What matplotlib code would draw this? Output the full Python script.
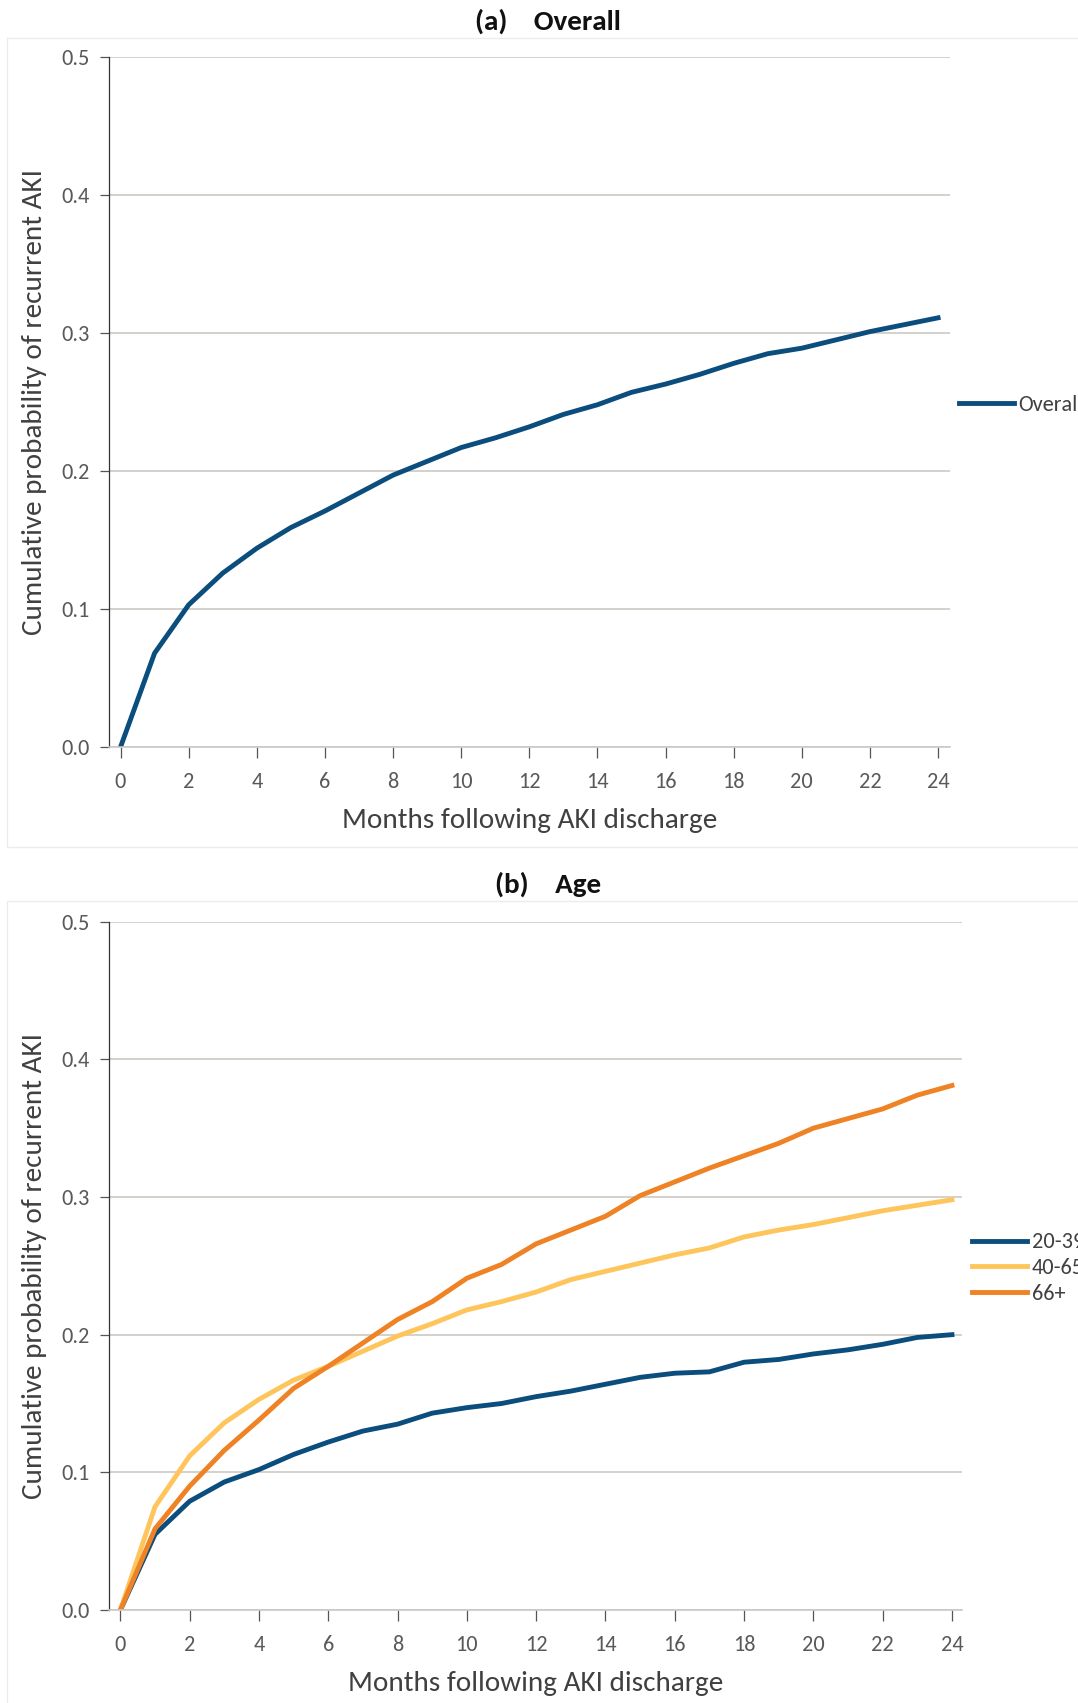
import numpy as np
import matplotlib
matplotlib.use('Agg')
import matplotlib.pyplot as plt
from matplotlib import font_manager
from matplotlib.patches import Rectangle

# months after discharge
months = np.arange(0, 25)

# (a) overall cumulative probability
overall = [0.0, 0.068, 0.103, 0.126, 0.144, 0.159, 0.171, 0.184, 0.197, 0.207,
           0.217, 0.224, 0.232, 0.241, 0.248, 0.257, 0.263, 0.270, 0.278, 0.285,
           0.289, 0.295, 0.301, 0.306, 0.311]

# (b) by age group
age_20_39 = [0.0, 0.055, 0.079, 0.093, 0.102, 0.113, 0.122, 0.130, 0.135, 0.143,
             0.147, 0.150, 0.155, 0.159, 0.164, 0.169, 0.172, 0.173, 0.180, 0.182,
             0.186, 0.189, 0.193, 0.198, 0.200]
age_40_65 = [0.0, 0.075, 0.112, 0.136, 0.153, 0.167, 0.177, 0.188, 0.199, 0.208,
             0.218, 0.224, 0.231, 0.240, 0.246, 0.252, 0.258, 0.263, 0.271, 0.276,
             0.280, 0.285, 0.290, 0.294, 0.298]
age_66 = [0.0, 0.059, 0.090, 0.116, 0.138, 0.161, 0.177, 0.194, 0.211, 0.224,
          0.241, 0.251, 0.266, 0.276, 0.286, 0.301, 0.311, 0.321, 0.330, 0.339,
          0.350, 0.357, 0.364, 0.374, 0.381]

BLUE = '#0b4d7c'
YELLOW = '#fec55c'
ORANGE = '#ee8224'
GRID = '#cdc8c4'
TXT = '#404040'

# Calibri-like font if we have one
installed = {f.name for f in font_manager.fontManager.ttflist}
fam = next((f for f in ['Carlito', 'Liberation Sans Narrow', 'Roboto Condensed',
                        'Open Sans'] if f in installed), 'DejaVu Sans')
plt.rcParams['font.family'] = [fam, 'DejaVu Sans']

W, H = 1078, 1703
fig = plt.figure(figsize=(W / 100, H / 100), dpi=100)

# faint panel frames
for (x0, y0, x1, y1) in [(7, 38, 1085, 847), (7, 901, 1085, 1710)]:
    fig.add_artist(Rectangle((x0 / W, 1 - y1 / H), (x1 - x0) / W, (y1 - y0) / H,
                             transform=fig.transFigure, fill=False,
                             edgecolor='#ececec', linewidth=1.0))


def style_axes(ax, xlim):
    ax.set_xlim(*xlim)
    ax.set_ylim(0, 0.5)
    ax.set_xticks(np.arange(0, 25, 2))
    ax.set_yticks(np.arange(0, 0.51, 0.1))
    ax.set_yticklabels([f'{v:.1f}' for v in np.arange(0, 0.51, 0.1)])
    ax.grid(axis='y', color=GRID, linewidth=1.2)
    ax.set_axisbelow(True)
    for s in ['top', 'right']:
        ax.spines[s].set_visible(False)
    ax.spines['left'].set_color('#333333')
    ax.spines['left'].set_linewidth(0.9)
    ax.spines['bottom'].set_color(GRID)
    ax.spines['bottom'].set_linewidth(1.2)
    ax.tick_params(axis='x', length=7.8, width=0.9, color='#555555', pad=10,
                   labelsize=16, labelcolor='#595959')
    ax.tick_params(axis='y', length=6.5, width=0.9, color='#555555', pad=7,
                   labelsize=16, labelcolor='#595959')
    ax.set_xlabel('Months following AKI discharge', fontsize=21, color=TXT)
    ax.set_ylabel('Cumulative probability of recurrent AKI', fontsize=21,
                  color=TXT)


# panel (a)
ax1 = fig.add_axes([108.6 / W, 1 - 747 / H, (950 - 108.6) / W, (747 - 57) / H])
ax1.plot(months, overall, color=BLUE, linewidth=3.5, label='Overall')
style_axes(ax1, (-0.35, 24.35))
ax1.xaxis.set_label_coords(0.5, -0.089)
ax1.yaxis.set_label_coords(-0.0737, 0.5)
ax1.legend(loc='center left', bbox_to_anchor=(1.0102, 0.496), frameon=False,
           fontsize=16, handlelength=2.5, handletextpad=0.2, borderpad=0,
           borderaxespad=0, labelcolor='#404040')
fig.text(548 / W, 1 - 21 / H, '(a)    Overall', ha='center', va='center',
         fontsize=21, fontweight='bold', color='#111111')

# panel (b)
ax2 = fig.add_axes([108.6 / W, 1 - 1610 / H, (962 - 108.6) / W, (1610 - 921.7) / H])
ax2.plot(months, age_20_39, color=BLUE, linewidth=3.5, label='20-39')
ax2.plot(months, age_40_65, color=YELLOW, linewidth=3.5, label='40-65')
ax2.plot(months, age_66, color=ORANGE, linewidth=3.5, label='66+')
style_axes(ax2, (-0.34, 24.29))
ax2.xaxis.set_label_coords(0.5, -0.089)
ax2.yaxis.set_label_coords(-0.0726, 0.5)
ax2.legend(loc='center left', bbox_to_anchor=(1.0112, 0.4968), frameon=False,
           fontsize=16, handlelength=2.5, handletextpad=0.2, borderpad=0,
           borderaxespad=0, labelspacing=0.25, labelcolor='#404040')
fig.text(548 / W, 1 - 884 / H, '(b)    Age', ha='center', va='center',
         fontsize=21, fontweight='bold', color='#111111')

fig.savefig('out.png', dpi=100)
